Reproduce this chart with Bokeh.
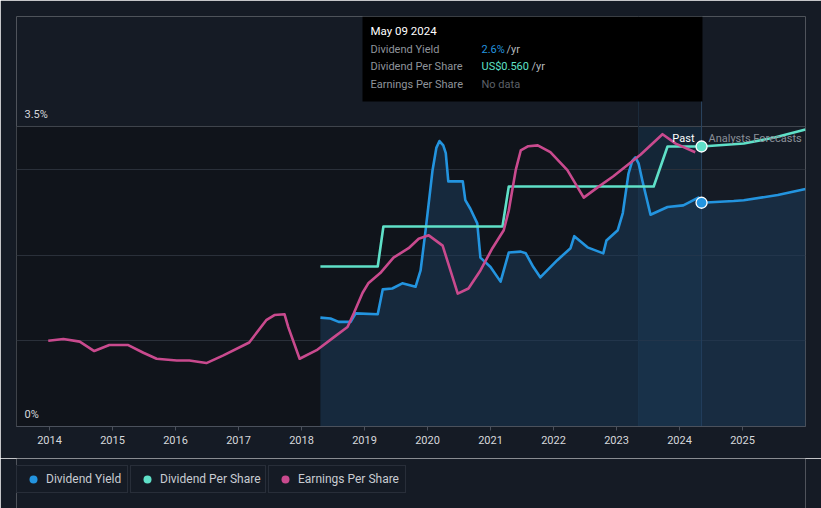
from bokeh.plotting import figure
from bokeh.layouts import column
from bokeh.models import (Range1d, FixedTicker, PrintfTickFormatter, BoxAnnotation,
                          Span, Label, Legend, LegendItem)
from bokeh.embed import file_html
from bokeh.resources import INLINE

# ---------------- data ----------------
yield_years = [2018.30, 2018.46, 2018.59, 2018.78, 2018.86, 2019.21, 2019.29, 2019.44, 2019.60, 2019.81,
               2019.89, 2019.97, 2020.08, 2020.14, 2020.19, 2020.25, 2020.29, 2020.33, 2020.56, 2020.60,
               2020.68, 2020.79, 2020.84, 2021.00, 2021.16, 2021.29, 2021.48, 2021.56, 2021.68, 2021.79,
               2022.06, 2022.27, 2022.33, 2022.54, 2022.79, 2022.84, 2023.02, 2023.10, 2023.19, 2023.25,
               2023.30, 2023.35, 2023.41, 2023.54, 2023.81, 2024.06, 2024.30, 2024.35]
yield_pct = [1.27, 1.26, 1.22, 1.22, 1.32, 1.31, 1.60, 1.61, 1.67, 1.63,
             1.82, 2.29, 2.99, 3.25, 3.33, 3.28, 3.19, 2.86, 2.86, 2.64,
             2.54, 2.37, 1.97, 1.86, 1.69, 2.03, 2.04, 2.02, 1.86, 1.74,
             1.94, 2.08, 2.22, 2.09, 2.02, 2.17, 2.29, 2.49, 2.95, 3.10,
             3.14, 3.07, 2.87, 2.47, 2.56, 2.58, 2.67, 2.61]
yield_fc_years = [2024.35, 2024.86, 2025.02, 2025.56, 2026.0]
yield_fc_pct = [2.61, 2.63, 2.64, 2.70, 2.77]

dps_years = [2018.30, 2019.21, 2019.30, 2021.19, 2021.29, 2023.59, 2023.81, 2024.35]
dps_usd = [0.32, 0.32, 0.40, 0.40, 0.48, 0.48, 0.56, 0.56]
dps_fc_years = [2024.35, 2025.02, 2025.51, 2026.0]
dps_fc_usd = [0.56, 0.566, 0.578, 0.594]

eps_years = [2013.98, 2014.22, 2014.48, 2014.71, 2014.95, 2015.25, 2015.49, 2015.70, 2016.02, 2016.22,
             2016.49, 2016.76, 2017.17, 2017.44, 2017.57, 2017.73, 2017.79, 2017.97, 2018.24, 2018.51,
             2018.73, 2018.83, 2018.97, 2019.06, 2019.25, 2019.46, 2019.70, 2019.86, 2020.02, 2020.24,
             2020.33, 2020.48, 2020.65, 2020.84, 2021.03, 2021.21, 2021.29, 2021.40, 2021.48, 2021.60,
             2021.75, 2021.95, 2022.22, 2022.48, 2022.70, 2022.95, 2023.38, 2023.73, 2023.94, 2024.25]
eps_rel = [1.00, 1.02, 0.99, 0.88, 0.95, 0.95, 0.86, 0.79, 0.77, 0.77,
           0.74, 0.83, 0.98, 1.24, 1.30, 1.31, 1.16, 0.79, 0.89, 1.04,
           1.16, 1.32, 1.56, 1.67, 1.79, 1.97, 2.08, 2.19, 2.23, 2.11,
           1.90, 1.55, 1.61, 1.82, 2.08, 2.29, 2.52, 2.99, 3.22, 3.27,
           3.28, 3.20, 2.99, 2.67, 2.79, 2.92, 3.17, 3.41, 3.30, 3.20]

tick_years = [2014, 2015, 2016, 2017, 2018, 2019, 2020, 2021, 2022, 2023, 2024, 2025]
today = 2024.35
past_band_start = 2023.35
legend_labels = ["Dividend Yield", "Dividend Per Share", "Earnings Per Share"]

# ---------------- style ----------------
BG = "#151b25"
PAST_BG = "#10141b"
BLUE = "#2394df"
TEAL = "#5fe0c8"
MAGENTA = "#c94a8e"
FONT = "Roboto"

X0, X1 = 2013.476, 2026.0
Y0, Y1 = 0.0, 4.783
DPS_TOP = 0.82


def X(px):
    return 2014 + (px - 49) / 63.0


def Y(py):
    return (426 - py) / 85.714


p = figure(width=821, height=458, output_backend="svg", toolbar_location=None,
           x_range=Range1d(X0, X1), y_range=Range1d(Y0, Y1), y_axis_location=None,
           min_border_left=16, min_border_right=16, min_border_top=16, min_border_bottom=32,
           background_fill_color=BG, border_fill_color=BG, outline_line_color=None)
p.extra_y_ranges = {"dps": Range1d(0, DPS_TOP)}

# past darker background and highlight band
p.add_layout(BoxAnnotation(right=today, bottom=0, top=3.5, fill_color=PAST_BG, fill_alpha=1,
                           line_color=None, level="image"))
p.add_layout(BoxAnnotation(left=past_band_start, right=today, bottom=0, top=3.5, fill_color="#1f5583",
                           fill_alpha=0.28, line_color=None, level="image"))

# grid
p.xgrid.visible = False
p.ygrid.ticker = FixedTicker(ticks=[1, 2, 3])
p.ygrid.grid_line_color = "#2a303a"
p.ygrid.grid_line_width = 1
p.add_layout(Span(location=3.5, dimension="width", line_color="#41464f", line_width=1, level="underlay"))
p.add_layout(Span(location=today, dimension="height", line_color="#2b4560", line_width=1, level="underlay"))
p.add_layout(Span(location=past_band_start, dimension="height", line_color="#1c2c3c",
                  line_width=1, level="underlay"))

# x axis
xa = p.xaxis[0]
xa.ticker = FixedTicker(ticks=tick_years)
xa.formatter = PrintfTickFormatter(format="%d")
xa.axis_line_color = "#4b515c"
xa.major_tick_line_color = "#4b515c"
xa.major_tick_out = 4
xa.major_tick_in = 0
xa.minor_tick_line_color = None
xa.major_label_text_color = "#d5d8dc"
xa.major_label_text_font = FONT
xa.major_label_text_font_size = "11px"
xa.major_label_standoff = 5

# dividend yield area + lines
all_y_years = yield_years + yield_fc_years[1:]
all_y_pct = yield_pct + yield_fc_pct[1:]
p.varea(x=all_y_years, y1=[0] * len(all_y_years), y2=all_y_pct, fill_color="#1b3b5a", fill_alpha=0.55)
p.line(yield_years, yield_pct, line_color=BLUE, line_width=2.6, line_join="round")
p.line(yield_fc_years, yield_fc_pct, line_color=BLUE, line_width=2.6, line_join="round")

# dividend per share
p.line(dps_years, dps_usd, line_color=TEAL, line_width=2.6, y_range_name="dps", line_join="round")
p.line(dps_fc_years, dps_fc_usd, line_color=TEAL, line_width=2.6, y_range_name="dps", line_join="round")

# earnings per share
p.line(eps_years, eps_rel, line_color=MAGENTA, line_width=2.6, line_join="round")

# today markers
p.scatter([today], [dps_usd[-1]], y_range_name="dps", size=11, fill_color=TEAL, line_color="white", line_width=1.3)
p.scatter([today], [yield_pct[-1]], size=11, fill_color=BLUE, line_color="white", line_width=1.3)

# y labels
p.add_layout(Label(x=X(24), y=Y(114), text="3.5%", text_baseline="middle", text_color="#d5d8dc",
                   text_font=FONT, text_font_size="11px"))
p.add_layout(Label(x=X(24), y=Y(414), text="0%", text_baseline="middle", text_color="#d5d8dc",
                   text_font=FONT, text_font_size="11px"))

# Past / Forecast labels
p.add_layout(Label(x=X(694), y=Y(138), text="Past", text_align="right", text_baseline="middle",
                   text_color="#ffffff", text_font=FONT, text_font_size="11px"))
p.add_layout(Label(x=X(708), y=Y(138), text="Analysts Forecasts", text_align="left", text_baseline="middle",
                   text_color="#8b9099", text_font=FONT, text_font_size="11px"))

# tooltip
p.add_layout(BoxAnnotation(left=X(362), right=X(702), bottom=Y(101), fill_color="#000000", fill_alpha=1,
                           line_color=None, level="overlay"))
sep_y = [Y(41), Y(58), Y(75), Y(93)]
p.segment(x0=[X(370)] * 4, x1=[X(694)] * 4, y0=sep_y, y1=sep_y, line_color="#3a3d42", line_width=1,
          level="overlay")


def tip(px, py, text, color, size="11px"):
    p.add_layout(Label(x=X(px), y=Y(py), text=text, text_baseline="middle", text_color=color,
                       text_font=FONT, text_font_size=size, level="overlay"))


tip(370, 31, "May 09 2024", "#ffffff", "11.5px")
tip(370, 49, "Dividend Yield", "#8f949b")
tip(370, 66, "Dividend Per Share", "#8f949b")
tip(370, 84, "Earnings Per Share", "#8f949b")
tip(481, 49, "2.6%", BLUE)
tip(506, 49, "/yr", "#b5b9be")
tip(481, 66, "US$0.560", TEAL)
tip(531, 66, "/yr", "#b5b9be")
tip(481, 84, "No data", "#5d6168")

# ---------------- legend strip (three separate boxes) ----------------
lg = figure(width=821, height=50, output_backend="svg", toolbar_location=None,
            x_range=Range1d(0, 789), y_range=Range1d(0, 50), x_axis_location=None, y_axis_location=None,
            min_border_left=16, min_border_right=16, min_border_top=0, min_border_bottom=0,
            background_fill_color=BG, border_fill_color=BG, outline_line_color=None)
lg.xgrid.visible = False
lg.ygrid.visible = False

legend_colors = [BLUE, TEAL, MAGENTA]
legend_x = [0, 114, 252]
legend_w = [78, 102, 104]
for lab, col, lx, lw in zip(legend_labels, legend_colors, legend_x, legend_w):
    # one off-screen point so the legend swatch is drawn
    r = lg.scatter(x=[-100], y=[-100], marker="circle", size=9, fill_color=col, line_color=None)
    leg = Legend(items=[LegendItem(label=lab, renderers=[r])], location=(lx, 15),
                 orientation="horizontal", border_line_color="#3b414d", border_line_width=1,
                 background_fill_color=BG, background_fill_alpha=1,
                 label_text_color="#c8ccd2", label_text_font=FONT, label_text_font_size="12px",
                 glyph_width=26, glyph_height=20, label_height=20, label_width=lw,
                 label_standoff=0, padding=3, margin=0, spacing=0)
    lg.add_layout(leg, "center")

layout = column(p, lg, spacing=0)
open("out.html", "w").write(file_html(layout, INLINE))
